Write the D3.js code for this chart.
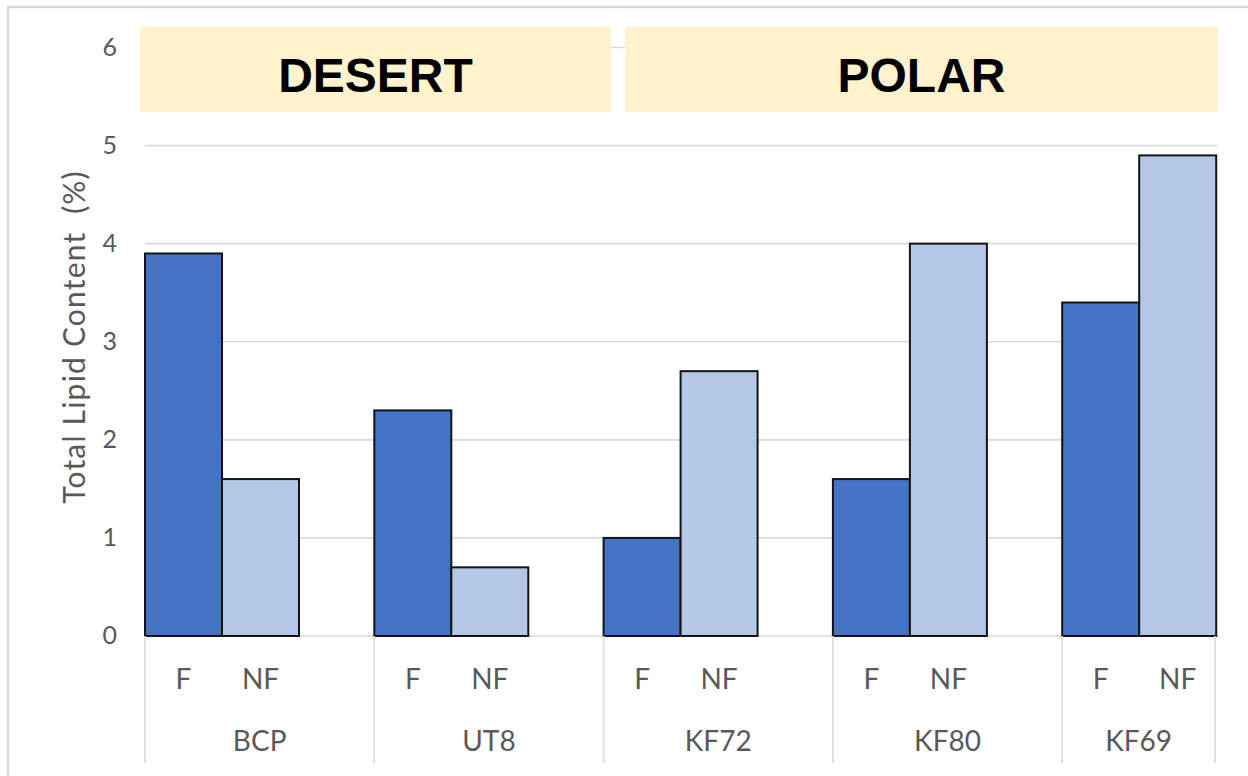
<!DOCTYPE html>
<html>
<head>
<meta charset="utf-8">
<script src="https://cdn.jsdelivr.net/npm/d3@7"></script>
<style>
  html, body { margin: 0; padding: 0; background: #fff; }
  svg { display: block; }
</style>
</head>
<body>
<svg id="chart" width="1248" height="776"></svg>
<script>
// ---- data ----
const categories = ["BCP", "UT8", "KF72", "KF80", "KF69"];
const series = ["F", "NF"];
const valuesF  = [3.9, 2.3, 1.0, 1.6, 3.4];
const valuesNF = [1.6, 0.7, 2.7, 4.0, 4.9];
const yTicks = [0, 1, 2, 3, 4, 5, 6];
const groups = [
  { label: "DESERT", from: "BCP", to: "UT8" },
  { label: "POLAR",  from: "KF72", to: "KF69" }
];
const yTitle = "Total Lipid Content\u00a0\u00a0(%)";

const svg = d3.select("#chart");
const plotLeft = 145, plotRight = 1216, plotTop = 47.5, plotBottom = 636;
const grey = "#595959";
const lineGrey = "#d9d9d9";

// outer border
svg.append("rect").attr("x", 8).attr("y", 7).attr("width", 1260).attr("height", 800)
  .attr("fill", "none").attr("stroke", lineGrey).attr("stroke-width", 2.5);

const y = d3.scaleLinear().domain([0, 6]).range([plotBottom, plotTop]);
const x = d3.scaleBand().domain(categories).range([plotLeft, plotLeft + 5 * 229.3]);
const sub = d3.scaleBand().domain(series).range([0, 154]);

// gridlines
svg.append("g").selectAll("line").data(yTicks).join("line")
  .attr("x1", plotLeft).attr("x2", plotRight + 1)
  .attr("y1", d => y(d)).attr("y2", d => y(d))
  .attr("stroke", lineGrey).attr("stroke-width", 1.6);

// y tick labels
svg.append("g").selectAll("text").data(yTicks).join("text")
  .attr("x", 117).attr("y", d => y(d) - 2)
  .attr("text-anchor", "end").attr("dominant-baseline", "central")
  .attr("font-family", "Lato, 'Open Sans', sans-serif").attr("font-size", 25)
  .attr("fill", grey).text(d => d);

// y title
svg.append("text")
  .attr("transform", `translate(73,${337}) rotate(-90)`)
  .attr("text-anchor", "middle").attr("dominant-baseline", "central")
  .attr("font-family", "Lato, 'Open Sans', sans-serif").attr("font-size", 30)
  .attr("letter-spacing", 1.2)
  .attr("fill", grey).text(yTitle);

// bars
const rows = [];
categories.forEach((c, i) => {
  rows.push({ c, s: "F", v: valuesF[i] });
  rows.push({ c, s: "NF", v: valuesNF[i] });
});
const color = { F: "#4472c4", NF: "#b4c7e7" };
svg.append("g").selectAll("rect").data(rows).join("rect")
  .attr("x", d => x(d.c) + sub(d.s))
  .attr("y", d => y(d.v))
  .attr("width", sub.bandwidth())
  .attr("height", d => y(0) - y(d.v))
  .attr("fill", d => color[d.s])
  .attr("stroke", "#141414").attr("stroke-width", 2);

// category separators
const sepX = categories.map(c => x(c)).concat([plotRight - 1]);
svg.append("g").selectAll("line").data(sepX).join("line")
  .attr("x1", d => d).attr("x2", d => d)
  .attr("y1", plotBottom).attr("y2", 763)
  .attr("stroke", lineGrey).attr("stroke-width", 1.6);

// sub labels F / NF
svg.append("g").selectAll("text").data(rows).join("text")
  .attr("x", d => x(d.c) + sub(d.s) + sub.bandwidth() / 2)
  .attr("y", 678)
  .attr("text-anchor", "middle").attr("dominant-baseline", "central")
  .attr("font-family", "Lato, 'Open Sans', sans-serif").attr("font-size", 28)
  .attr("fill", grey).text(d => d.s);

// category labels
svg.append("g").selectAll("text").data(categories).join("text")
  .attr("x", c => (x(c) + Math.min(x(c) + x.bandwidth(), plotRight - 1)) / 2)
  .attr("y", 740)
  .attr("text-anchor", "middle").attr("dominant-baseline", "central")
  .attr("font-family", "Lato, 'Open Sans', sans-serif").attr("font-size", 28)
  .attr("fill", grey).text(c => c);

// group banners
const bannerX = { DESERT: [140, 611], POLAR: [625, 1218] };
const bg = svg.append("g");
groups.forEach(g => {
  const [x0, x1] = bannerX[g.label];
  bg.append("rect").attr("x", x0).attr("y", 27).attr("width", x1 - x0).attr("height", 85)
    .attr("fill", "#fff2cc");
  bg.append("text").attr("x", (x0 + x1) / 2).attr("y", 92)
    .attr("text-anchor", "middle")
    .attr("font-family", "'Liberation Sans', Arial, sans-serif").attr("font-weight", "bold")
    .attr("font-size", 48).attr("fill", "#000").text(g.label);
});
</script>
</body>
</html>
